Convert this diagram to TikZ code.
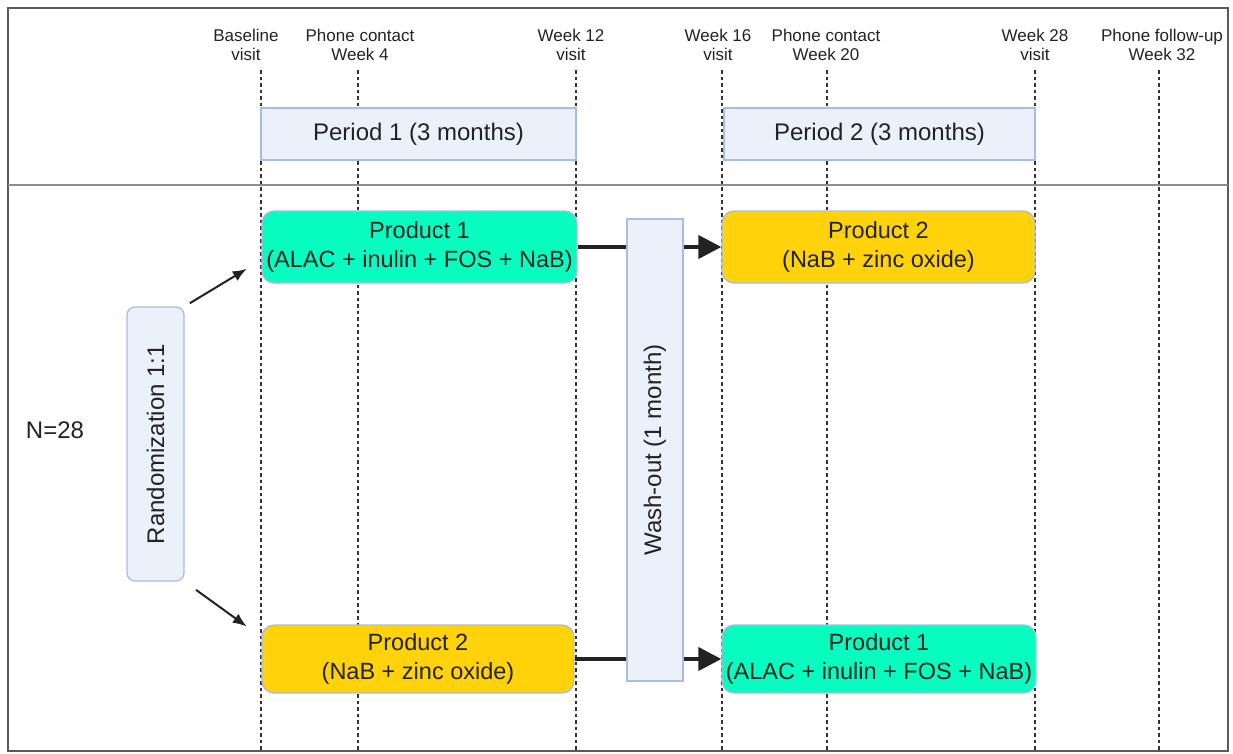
\documentclass[tikz,border=0pt]{standalone}
\usepackage{fontspec}
\usepackage{graphicx}
\setmainfont{Liberation Sans}
\usetikzlibrary{arrows.meta,positioning,calc}
\definecolor{textdark}{HTML}{222222}
\definecolor{framegray}{HTML}{5A5A5A}
\definecolor{rulegray}{HTML}{8C8C8C}
\definecolor{dashgray}{HTML}{333333}
\definecolor{phasefill}{HTML}{EBF1FA}
\definecolor{phaseline}{HTML}{A7BDE3}
\definecolor{prodgreen}{HTML}{06FDBF}
\definecolor{prodyellow}{HTML}{FFD20A}
\tikzset{
  >=Latex,
  visit/.style={font=\fontsize{17}{19}\selectfont, text=textdark, align=center, inner sep=0pt},
  timeline/.style={draw=dashgray, line width=1.8pt, dash pattern=on 3.5pt off 3pt},
  phase/.style={
    rectangle, draw=phaseline, fill=phasefill, line width=1.3pt,
    minimum height=52pt, font=\fontsize{24}{28}\selectfont, text=textdark, inner sep=0pt
  },
  product/.style={
    rectangle, rounded corners=12pt, draw=phaseline, line width=1.3pt,
    minimum width=314pt, minimum height=70pt, align=center,
    font=\fontsize{23.5}{29}\selectfont, text=textdark, inner sep=0pt
  },
  thinarrow/.style={-{Latex[length=14pt,width=11pt]}, line width=2pt, draw=textdark},
  thickarrow/.style={line width=4pt, draw=textdark},
  bigtip/.style={-{Triangle[length=23pt,width=23pt]}}
}

\begin{document}
\begin{tikzpicture}[x=1pt,y=-1pt]
\useasboundingbox (0,0) rectangle (1233,753);
% frame and separator
\draw[framegray, line width=1.6pt] (8,8) rectangle (1228,751);
\draw[rulegray, line width=2.5pt] (8,185) -- (1228,185);
% visits along the time axis
\foreach \x/\lx/\txt [count=\i] in {
    261/246/{Baseline\\visit},
    358/360/{Phone contact\\Week 4},
    576/571/{Week 12\\visit},
    722/718/{Week 16\\visit},
    827/826/{Phone contact\\Week 20},
    1035/1035/{Week 28\\visit},
    1159/1162/{Phone follow-up\\Week 32}} {
  \node[visit] (visit\i) at (\lx,44.5) {\txt};
  \draw[timeline] (\x,70) -- (\x,751);
}
% periods
\node[phase, minimum width=315pt] (per1) at (418.5,134) {Period 1 (3 months)};
\node[phase, minimum width=311pt] (per2) at (879.5,134) {Period 2 (3 months)};
% sample and randomization
\node[font=\fontsize{24}{28}\selectfont, text=textdark] (n) at (55,430) {N=28};
\node[phase, rounded corners=8pt, minimum width=57pt, minimum height=274pt] (rand) at (155.5,444)
  {\rotatebox{90}{Randomization 1:1}};
\node[phase, minimum width=56pt, minimum height=462pt] (wash) at (655,450)
  {\rotatebox{90}{Wash-out (1 month)}};
% products
\node[product, fill=prodgreen, minimum width=315pt, minimum height=72pt] (p1a) at (419.5,247)
  {Product 1\\(ALAC + inulin + FOS + NaB)};
\node[product, fill=prodyellow, minimum width=313pt, minimum height=72pt] (p2a) at (878.5,247)
  {Product 2\\(NaB + zinc oxide)};
\node[product, fill=prodyellow, minimum width=312pt, minimum height=68pt] (p2b) at (418,659)
  {Product 2\\(NaB + zinc oxide)};
\node[product, fill=prodgreen, minimum width=314pt, minimum height=68pt] (p1b) at (879,659)
  {Product 1\\(ALAC + inulin + FOS + NaB)};
% arrows
\draw[thinarrow, shorten <=6pt, shorten >=17pt] (rand.north east) -- ($(p1a.west)+(0,13)$);
\draw[thinarrow, shorten <=14pt, shorten >=18pt] (rand.south east) -- ($(p2b.west)+(0,-22)$);
\draw[thickarrow] (p1a.east) -- (p1a.east -| wash.west);
\draw[thickarrow, bigtip] (p1a.east -| wash.east) -- (p2a.west);
\draw[thickarrow] (p2b.east) -- (p2b.east -| wash.west);
\draw[thickarrow, bigtip] (p2b.east -| wash.east) -- (p1b.west);
\end{tikzpicture}
\end{document}
